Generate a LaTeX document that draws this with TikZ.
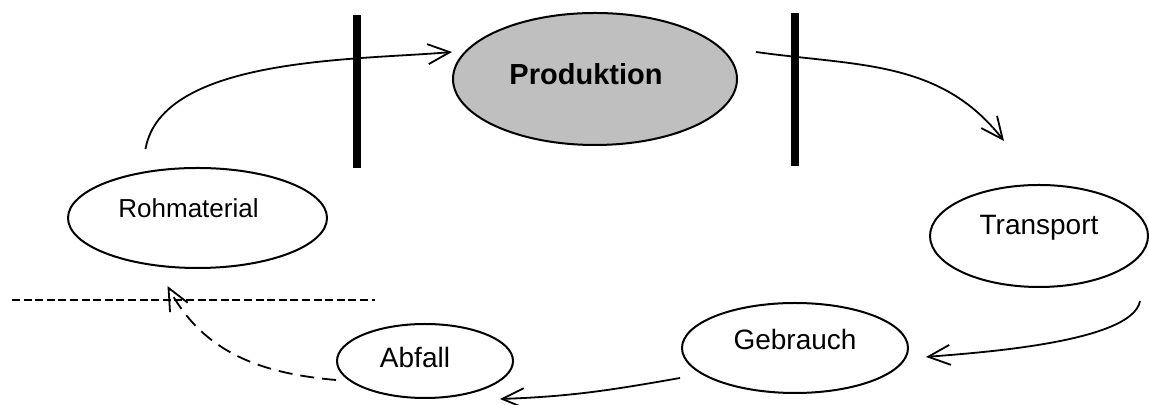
\documentclass[tikz,border=0pt]{standalone}
\usepackage{fontspec}
\setmainfont{Liberation Sans}
\usetikzlibrary{shapes.geometric, arrows.meta}

\begin{document}
\begin{tikzpicture}[x=0.5pt, y=0.5pt,
    stage/.style={draw, ellipse, line width=1pt, inner sep=0pt, text height=10pt,
        font=\fontsize{14}{16}\selectfont},
    flow/.style={line width=0.9pt, -{Straight Barb[length=11pt, width=10pt]}},
    back/.style={flow, dash pattern=on 7pt off 4pt},
    bar/.style={line width=4.3pt}]
    \useasboundingbox (0,0) rectangle (1150,405);

    \node[stage, fill=gray!50, minimum width=142pt, minimum height=66pt, text depth=4pt,
        font=\fontsize{14.5}{16}\selectfont\bfseries] (P) at (595,326) {Produktion\kern9pt};
    \node[stage, minimum width=129.5pt, minimum height=50pt, text depth=10pt,
        font=\fontsize{13}{15}\selectfont] (R) at (197.5,187) {Rohmaterial\kern9pt};
    \node[stage, minimum width=109pt, minimum height=51pt, text depth=11pt] (T) at (1039,169) {Transport};
    \node[stage, minimum width=113pt, minimum height=45pt, text depth=8pt] (G) at (795,57) {Gebrauch};
    \node[stage, minimum width=88pt, minimum height=37pt, text depth=3pt] (A) at (425,44) {Abfall\kern10pt};

    % Schranken links und rechts der Produktion
    \draw[bar] (357,390) -- (357,237);
    \draw[bar] (795,392) -- (795,239);

    \draw[line width=1.1pt, dash pattern=on 4pt off 1.8pt] (12,105) -- (375,105);

    \draw[flow] ([shift={(-52,18)}]R.north) to[out=80, in=185, looseness=0.75] ([shift={(0,27)}]P.west);
    \draw[flow] ([shift={(18,27)}]P.east) to[out=-8, in=128] ([shift={(-35,43)}]T.north);
    \draw[flow] ([shift={(101,-13)}]T.south) to[out=-100, in=5, looseness=0.5] ([shift={(17,-9)}]G.east);
    \draw[flow] ([shift={(-1,-30)}]G.west) to[out=190, in=2] ([shift={(75,0)}]A.south);
    \draw[back] ([shift={(0,-19)}]A.west) to[out=175, in=-62] ([shift={(-30,-17)}]R.south);
\end{tikzpicture}
\end{document}
